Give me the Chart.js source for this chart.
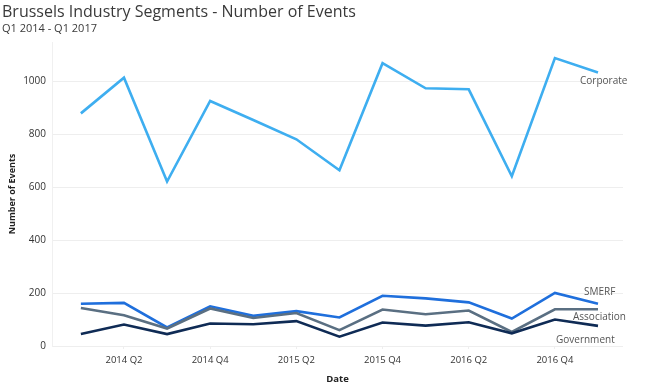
<!DOCTYPE html>
<html>
<head>
<meta charset="utf-8">
<script src="https://cdn.jsdelivr.net/npm/chart.js@4/dist/chart.umd.min.js"></script>
<style>
  html, body { margin: 0; padding: 0; background: #fff; }
  #wrap { position: relative; width: 650px; height: 388px; overflow: hidden; }
  #title { position: absolute; left: 2px; top: 0px; font-family: "Open Sans", sans-serif; font-size: 16px; color: #3a3a3a; white-space: nowrap; }
  #subtitle { position: absolute; left: 2px; top: 20px; font-family: "Open Sans", sans-serif; font-size: 11px; color: #3a3a3a; white-space: nowrap; }
  canvas { position: absolute; left: 0; top: 0; }
</style>
</head>
<body>
<div id="wrap">
  <canvas id="c" width="650" height="388"></canvas>
  <div id="title">Brussels Industry Segments - Number of Events</div>
  <div id="subtitle">Q1 2014 - Q1 2017</div>
</div>
<script>
const quarters = ["2014 Q1","2014 Q2","2014 Q3","2014 Q4","2015 Q1","2015 Q2","2015 Q3","2015 Q4","2016 Q1","2016 Q2","2016 Q3","2016 Q4","2017 Q1"];
const tickLabels = ["2014 Q2","2014 Q4","2015 Q2","2015 Q4","2016 Q2","2016 Q4"];
const seriesNames = ["Corporate","SMERF","Association","Government"];
const corporate   = [880, 1015, 622, 927, 855, 782, 665, 1070, 975, 971, 642, 1089, 1035];
const smerf       = [160, 163, 70, 150, 114, 132, 108, 190, 180, 165, 104, 201, 160];
const association = [144, 116, 66, 142, 106, 125, 60, 138, 120, 134, 53, 139, 139];
const government  = [45, 81, 45, 85, 82, 94, 35, 89, 77, 90, 48, 100, 76];
const yTicks = [0, 200, 400, 600, 800, 1000];

const colors = ["#3eaef0", "#1f6fdc", "#5a6f82", "#0f2b55"];
const labelOffsets = [[-18, 9], [-14, -12], [-25, 8], [-42, 14]];
const allSeries = [corporate, smerf, association, government];

const toPts = arr => arr.map((v, i) => ({x: i, y: v}));
const tickIdx = tickLabels.map(t => quarters.indexOf(t));

const endLabels = {
  id: 'endLabels',
  afterDatasetsDraw(chart) {
    const ctx = chart.ctx;
    const xs = chart.scales.x, ys = chart.scales.y;
    ctx.save();
    ctx.font = '10px "Open Sans", sans-serif';
    ctx.fillStyle = '#555';
    ctx.textBaseline = 'middle';
    ctx.textAlign = 'left';
    chart.data.datasets.forEach(ds => {
      const i = ds.seriesIndex;
      const last = ds.data[ds.data.length - 1];
      const px = xs.getPixelForValue(last.x) + labelOffsets[i][0];
      const py = ys.getPixelForValue(last.y) + labelOffsets[i][1];
      ctx.fillText(ds.label, px, py);
    });
    ctx.restore();
  }
};

new Chart(document.getElementById('c'), {
  type: 'line',
  data: {
    datasets: allSeries.map((arr, i) => ({
      label: seriesNames[i],
      seriesIndex: i,
      data: toPts(arr),
      borderColor: colors[i],
      backgroundColor: colors[i],
      borderWidth: 2.6,
      pointRadius: 0,
      tension: 0,
      fill: false
    })).reverse()
  },
  options: {
    responsive: false,
    devicePixelRatio: 1,
    animation: false,
    layout: { padding: { top: 42, right: 27, left: 0, bottom: 0 } },
    plugins: { legend: { display: false }, tooltip: { enabled: false } },
    scales: {
      x: {
        type: 'linear',
        min: -0.67,
        max: 12.58,
        afterBuildTicks: s => { s.ticks = tickIdx.map(v => ({value: v})); },
        afterFit: s => { s.height = 42; },
        ticks: {
          autoSkip: false,
          maxRotation: 0,
          padding: 6,
          color: '#333',
          font: { family: '"Open Sans", sans-serif', size: 9.5 },
          callback: v => quarters[v]
        },
        grid: { drawOnChartArea: false, color: '#eeeeee', tickLength: 3 },
        border: { display: false },
        title: {
          display: true, text: 'Date', color: '#222',
          font: { family: '"Open Sans", sans-serif', size: 9.5, weight: 'bold' },
          padding: { top: 0, bottom: 3 }
        }
      },
      y: {
        min: 0,
        max: 1150,
        afterBuildTicks: s => { s.ticks = yTicks.map(v => ({value: v})); },
        afterFit: s => { s.width = 52; },
        ticks: {
          padding: 6,
          color: '#333',
          font: { family: '"Open Sans", sans-serif', size: 10 },
          callback: v => String(v)
        },
        grid: { color: '#eeeeee', drawTicks: false, lineWidth: 1 },
        border: { display: true, color: '#f0f0f0' },
        title: {
          display: true, text: 'Number of Events', color: '#222',
          font: { family: '"Open Sans", sans-serif', size: 9, weight: 'bold' },
          padding: { top: 7, bottom: 0 }
        }
      }
    }
  },
  plugins: [endLabels]
});
</script>
</body>
</html>
